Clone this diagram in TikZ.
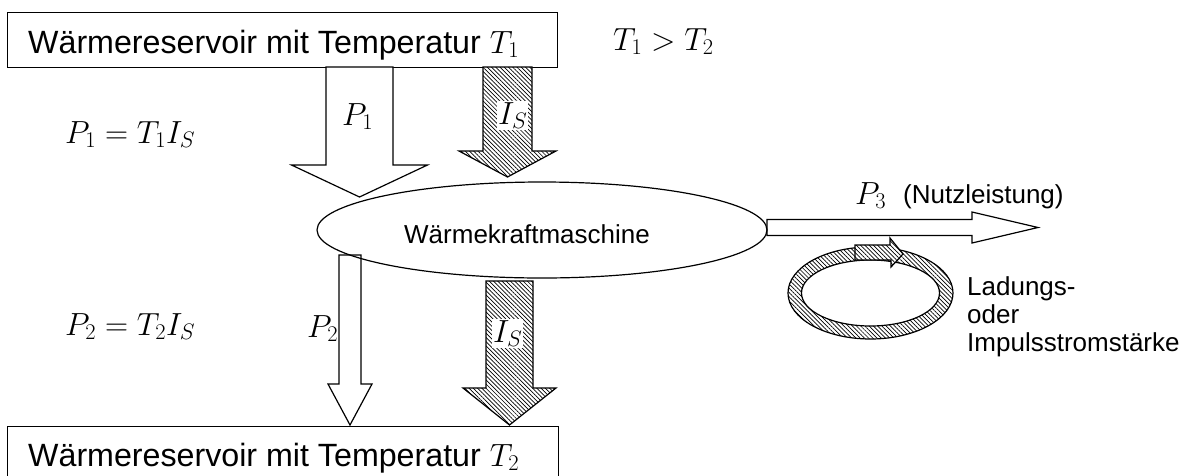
\RequirePackage{fix-cm}
\documentclass[tikz,border=0pt]{standalone}
\usepackage{fontspec}
\setmainfont{Liberation Sans}
\usetikzlibrary{patterns.meta,shapes.geometric}

\newcommand\resfont{\fontsize{32.2}{38}\selectfont}
\newcommand\lblfont{\fontsize{26}{30}\selectfont}
\newcommand\eqsize{\fontsize{32}{38}\selectfont}

% vertical block arrow: style, x centre, y top, shaft half width, y head base, head half width, y tip
\newcommand\blockdown[7]{%
  \path[#1] (#2-#4,#3) -- (#2+#4,#3) -- (#2+#4,#5) -- (#2+#6,#5) -- (#2,#7)
    -- (#2-#6,#5) -- (#2-#4,#5) -- cycle;}
% horizontal block arrow: style, x start, y centre, shaft half width, x head base, head half width, x tip
\newcommand\blockright[7]{%
  \path[#1] (#2,#3-#4) -- (#5,#3-#4) -- (#5,#3-#6) -- (#7,#3) -- (#5,#3+#6)
    -- (#5,#3+#4) -- (#2,#3+#4) -- cycle;}

\tikzset{
  outline/.style={draw=black, line width=1.2pt, line join=miter},
  hatch/.style={pattern={Lines[angle=-45,distance=3pt,line width=0.7pt]}},
  plainarrow/.style={outline, fill=white},
  hatcharrow/.style={outline, preaction={fill=white}, hatch},
  restext/.style={anchor=base west, inner sep=0pt, font=\resfont},
  lbltext/.style={anchor=base west, inner sep=0pt, font=\lblfont},
  eqtext/.style={anchor=base west, inner sep=0pt, font=\eqsize},
  islabel/.style={eqtext, fill=white, inner sep=1pt},
}

\begin{document}
\begin{tikzpicture}[x=1pt,y=-1pt]
\useasboundingbox (0,0) rectangle (1192,475);
\clip (0,0) rectangle (1192,475);

% heat reservoirs
\node[outline, anchor=north west, minimum width=550pt, minimum height=55pt, inner sep=0pt] (hot) at (7,12) {};
\node[outline, anchor=north west, minimum width=551pt, minimum height=80pt, inner sep=0pt] (cold) at (7,426) {};
\node[restext] (hottext) at (28,53) {Wärmereservoir mit Temperatur $T_1$};
\node[restext] (coldtext) at (28,466) {Wärmereservoir mit Temperatur $T_2$};

% energy and entropy currents
\blockdown{plainarrow}{359.5}{67}{33.5}{165}{68}{197}
\blockdown{hatcharrow}{507.5}{67}{24.5}{151}{48.5}{177}
\blockdown{plainarrow}{350}{255}{11}{384}{22}{425}
\blockdown{hatcharrow}{509.5}{281}{23.5}{388}{46.5}{425}
\blockright{plainarrow}{767}{227.5}{8}{972}{15.5}{1038}

% heat engine
\node[outline, ellipse, minimum width=450pt, minimum height=96pt, inner sep=0pt] (engine) at (542,230) {};
\node[lbltext] (enginetext) at (404,243) {Wärmekraftmaschine};

% closed loop of the charge or momentum current
\coordinate (ringc) at (870.5,293);
\path[hatch, even odd rule] (ringc) ellipse [x radius=82.5pt, y radius=46pt]
  (ringc) ellipse [x radius=69pt, y radius=33pt];
\draw[outline] (ringc) ellipse [x radius=82.5pt, y radius=46pt];
\draw[outline] (ringc) ellipse [x radius=69pt, y radius=33pt];
\path[hatcharrow] (855,245) -- (890,245) -- (890,238) -- (903,254) -- (891,267)
  -- (891,260) -- (855,260) -- cycle;

% labels
\node[eqtext] (p1) at (342,125) {$P_1$};
\node[islabel] (is1) at (497,124) {$I_S$};
\node[eqtext] (p2) at (307,337) {$P_2$};
\node[islabel] (is2) at (492,342) {$I_S$};
\node[eqtext] (p3) at (855,204) {$P_3$};
\node[lbltext] (nutz) at (903,203) {(Nutzleistung)};
\node[eqtext] (cond) at (613,50) {$T_1 > T_2$};
\node[eqtext] (eq1) at (65,143) {$P_1 = T_1 I_S$};
\node[eqtext] (eq2) at (65,335) {$P_2 = T_2 I_S$};
\node[lbltext] (lad1) at (967,295) {Ladungs-};
\node[lbltext] (lad2) at (967,323) {oder};
\node[lbltext] (lad3) at (967,351) {Impulsstromstärke};
\end{tikzpicture}
\end{document}
